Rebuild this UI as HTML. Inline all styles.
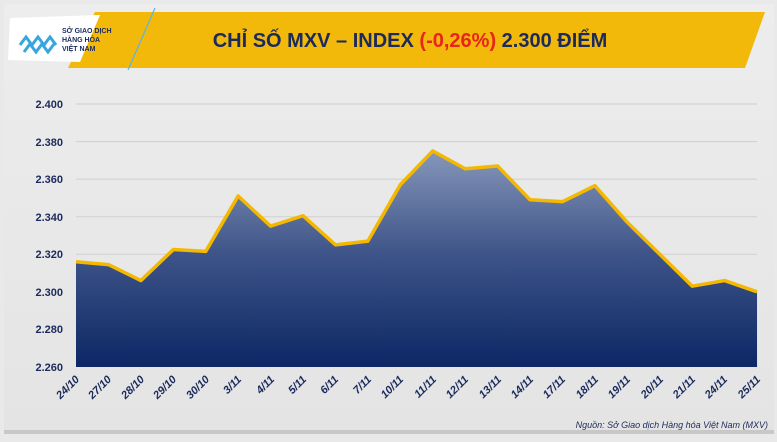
<!DOCTYPE html>
<html><head><meta charset="utf-8"><style>
body{margin:0;width:777px;height:437px;background:#e9e9e9;overflow:hidden;font-family:"Liberation Sans",sans-serif}
</style></head><body>
<svg width="777" height="437" viewBox="0 0 777 437" xmlns="http://www.w3.org/2000/svg">
<defs>
<linearGradient id="g" gradientUnits="userSpaceOnUse" x1="0" y1="2380" x2="0" y2="2260">
<stop offset="0" stop-color="#8d9dbe"/><stop offset="0.5" stop-color="#3e5488"/><stop offset="1" stop-color="#0b2765"/></linearGradient>
<linearGradient id="bg" x1="0" y1="0" x2="0" y2="1"><stop offset="0" stop-color="#ededed"/><stop offset="1" stop-color="#e4e4e4"/></linearGradient>
</defs>
<rect x="4" y="4" width="770" height="428" fill="url(#bg)"/>
<rect x="4" y="430" width="770" height="4" fill="#c8c8c8"/>
<polygon points="95,12 765,12 745,68 68,68" fill="#f2b90a"/>
<polygon points="10,18 100,15 80,62 8,60" fill="#fff"/>
<line x1="155" y1="8" x2="128" y2="70" stroke="#5ab4e6" stroke-width="1.2"/>
<g fill="none" stroke="#37a6e0" stroke-width="3">
<path d="M20,45 l6,-8 l6,8 l6,-8 l6,8 l6,-8 l6,8"/>
<path d="M24,52 l6,-8 l6,8 l6,-8 l6,8 l6,-8"/>
</g>
<text x="62" y="33" font-size="7" font-weight="bold" fill="#1a2a5e">SỞ GIAO DỊCH</text>
<text x="62" y="42" font-size="7" font-weight="bold" fill="#1a2a5e">HÀNG HÓA</text>
<text x="62" y="51" font-size="7" font-weight="bold" fill="#1a2a5e">VIỆT NAM</text>
<text x="410" y="47" text-anchor="middle" font-size="20" font-weight="bold" fill="#1b2a5c">CHỈ SỐ MXV – INDEX <tspan fill="#e8241c">(-0,26%)</tspan> 2.300 ĐIỂM</text>
<g stroke="#cfcfcf" stroke-width="1">
<line x1="76" x2="757" y1="104" y2="104"/><line x1="76" x2="757" y1="141.6" y2="141.6"/>
<line x1="76" x2="757" y1="179.1" y2="179.1"/><line x1="76" x2="757" y1="216.7" y2="216.7"/>
<line x1="76" x2="757" y1="254.3" y2="254.3"/><line x1="76" x2="757" y1="291.9" y2="291.9"/>
<line x1="76" x2="757" y1="329.4" y2="329.4"/>
</g>
<g font-size="11" font-weight="bold" fill="#1b2a5c" text-anchor="end">
<text x="63" y="108">2.400</text><text x="63" y="146">2.380</text><text x="63" y="183">2.360</text>
<text x="63" y="221">2.340</text><text x="63" y="258">2.320</text><text x="63" y="296">2.300</text>
<text x="63" y="333">2.280</text><text x="63" y="371">2.260</text>
</g>
<g transform="matrix(32.43 0 0 -1.8786 76 4612.6)">
<polygon fill="url(#g)" points="0,2260 0,2316 1,2314.5 2,2306 3,2322.5 4,2321.5 5,2351 6,2335 7,2340.5 8,2325 9,2327 10,2357 11,2375 12,2365.5 13,2367 14,2349 15,2348 16,2356.5 17,2337 18,2320 19,2303 20,2306 21,2300 21,2260"/>
<polyline fill="none" stroke="#f5b800" stroke-width="3.5" stroke-linejoin="round" vector-effect="non-scaling-stroke" points="0,2316 1,2314.5 2,2306 3,2322.5 4,2321.5 5,2351 6,2335 7,2340.5 8,2325 9,2327 10,2357 11,2375 12,2365.5 13,2367 14,2349 15,2348 16,2356.5 17,2337 18,2320 19,2303 20,2306 21,2300"/>
</g>
<g font-size="11" font-weight="bold" font-style="italic" fill="#1b2a5c" text-anchor="end">
<text transform="translate(80,380) rotate(-45)">24/10</text>
<text transform="translate(112,380) rotate(-45)">27/10</text>
<text transform="translate(145,380) rotate(-45)">28/10</text>
<text transform="translate(177,380) rotate(-45)">29/10</text>
<text transform="translate(210,380) rotate(-45)">30/10</text>
<text transform="translate(242,380) rotate(-45)">3/11</text>
<text transform="translate(275,380) rotate(-45)">4/11</text>
<text transform="translate(307,380) rotate(-45)">5/11</text>
<text transform="translate(339,380) rotate(-45)">6/11</text>
<text transform="translate(372,380) rotate(-45)">7/11</text>
<text transform="translate(404,380) rotate(-45)">10/11</text>
<text transform="translate(437,380) rotate(-45)">11/11</text>
<text transform="translate(469,380) rotate(-45)">12/11</text>
<text transform="translate(502,380) rotate(-45)">13/11</text>
<text transform="translate(534,380) rotate(-45)">14/11</text>
<text transform="translate(566,380) rotate(-45)">17/11</text>
<text transform="translate(599,380) rotate(-45)">18/11</text>
<text transform="translate(631,380) rotate(-45)">19/11</text>
<text transform="translate(664,380) rotate(-45)">20/11</text>
<text transform="translate(696,380) rotate(-45)">21/11</text>
<text transform="translate(728,380) rotate(-45)">24/11</text>
<text transform="translate(761,380) rotate(-45)">25/11</text>
</g>
<text x="768" y="428" text-anchor="end" font-size="9" font-style="italic" fill="#1b2a5c">Nguồn: Sở Giao dịch Hàng hóa Việt Nam (MXV)</text>
</svg>
</body></html>
